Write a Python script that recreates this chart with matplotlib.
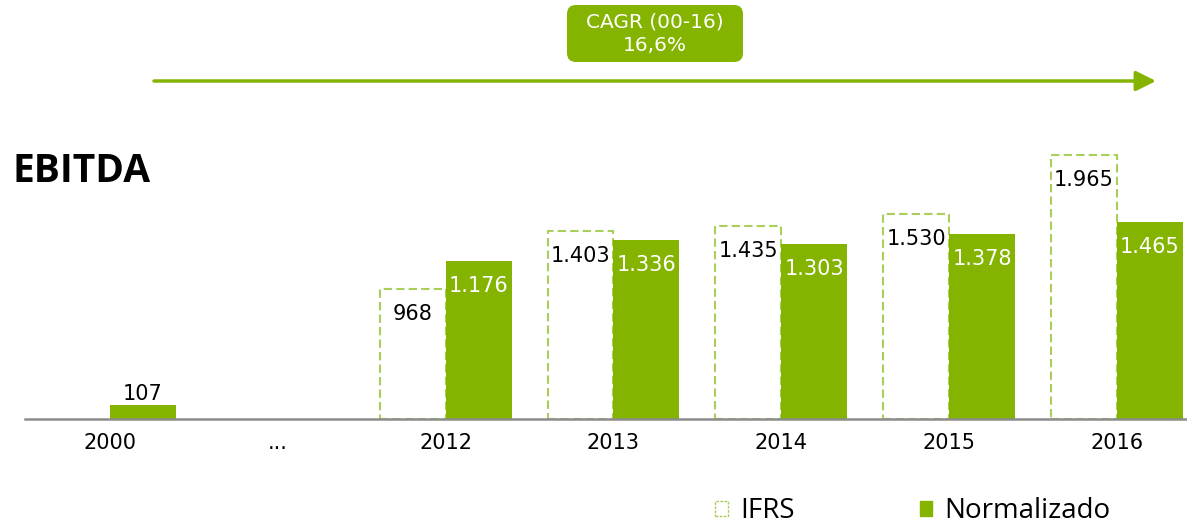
import matplotlib
matplotlib.use("Agg")
import matplotlib.pyplot as plt
import matplotlib.transforms as mtransforms
from matplotlib.patches import FancyBboxPatch, FancyArrowPatch, Patch

# ======================================================
# 데이터
# ======================================================
years = ["2000", "...", "2012", "2013", "2014", "2015", "2016"]
ifrs = [None, None, 968, 1403, 1435, 1530, 1965]
normalizado = [107, None, 1176, 1336, 1303, 1378, 1465]
cagr_text = "CAGR (00-16)\n16,6%"

GREEN = "#84b400"
DASH = "#a8d058"

plt.rcParams['font.family'] = ['DejaVu Sans']

W, H, DPI = 1187, 526, 100
fig = plt.figure(figsize=(W / DPI, H / DPI), dpi=DPI)

# axes: baseline at y=419px from top, left edge x=25px
ax = fig.add_axes([25 / W, 107 / H, (W - 25) / W, 282 / H])
ax.set_xlim(-0.506, 6.417)
ax.set_ylim(0, 2100)
bw = 0.393

def fmt(v):
    return f"{v:,}".replace(",", ".")

for i, (a, b) in enumerate(zip(ifrs, normalizado)):
    if a is not None:
        ax.bar(i - bw / 2, a, width=bw, facecolor="white", edgecolor=DASH,
               linewidth=1.5, linestyle=(0, (4, 2)), zorder=2)
        ax.annotate(fmt(a), (i - bw / 2, a), xytext=(0, -18), textcoords="offset points",
                    ha="center", va="center", fontsize=15, color="black")
    if b is not None:
        ax.bar(i + bw / 2, b, width=bw, color=GREEN, linewidth=0, zorder=2)
        if a is None:
            ax.annotate(fmt(b), (i + bw / 2, b), xytext=(0, 8), textcoords="offset points",
                        ha="center", va="center", fontsize=15, color="black")
        else:
            ax.annotate(fmt(b), (i + bw / 2, b), xytext=(0, -18), textcoords="offset points",
                        ha="center", va="center", fontsize=15, color="white")

ax.set_xticks(range(len(years)))
ax.set_xticklabels(years, fontsize=15)
ax.tick_params(axis="x", length=0, pad=10)
ax.set_yticks([])
for s in ["top", "right", "left"]:
    ax.spines[s].set_visible(False)
ax.spines["bottom"].set_color("#8c8c8c")
ax.spines["bottom"].set_linewidth(1.8)
ax.spines["bottom"].set_zorder(3)

# 제목
fig.text(12 / W, 1 - 172 / H, "EBITDA", fontsize=28, fontweight="bold", va="center",
         ha="left", family="Open Sans")

# CAGR 박스와 화살표
px = mtransforms.IdentityTransform()
box = FancyBboxPatch((567, H - 62), 176, 57, boxstyle="round,pad=0,rounding_size=9",
                     facecolor=GREEN, edgecolor="none", transform=px)
fig.add_artist(box)
fig.text(655 / W, 1 - 34 / H, cagr_text, ha="center", va="center", color="white",
         fontsize=14.5, linespacing=1.3)

arrow = FancyArrowPatch((154 / W, 1 - 81 / H), (1156 / W, 1 - 81 / H),
                        transform=fig.transFigure, arrowstyle="-|>,head_length=1.1,head_width=0.55",
                        mutation_scale=11, color=GREEN, linewidth=2.5, shrinkA=0, shrinkB=0)
fig.add_artist(arrow)

# 범례
handles = [Patch(facecolor="white", edgecolor=DASH, linestyle=(0, (2, 1)), linewidth=1, label="IFRS"),
           Patch(facecolor=GREEN, edgecolor=GREEN, label="Normalizado")]
fig.legend(handles=handles, loc="center", bbox_to_anchor=(913 / W, 15 / H), ncol=2,
           frameon=False, prop={"family": "Open Sans", "size": 20},
           handlelength=0.45, handleheight=0.45, handletextpad=0.45, columnspacing=4.5)

fig.savefig("out.png", dpi=DPI)
